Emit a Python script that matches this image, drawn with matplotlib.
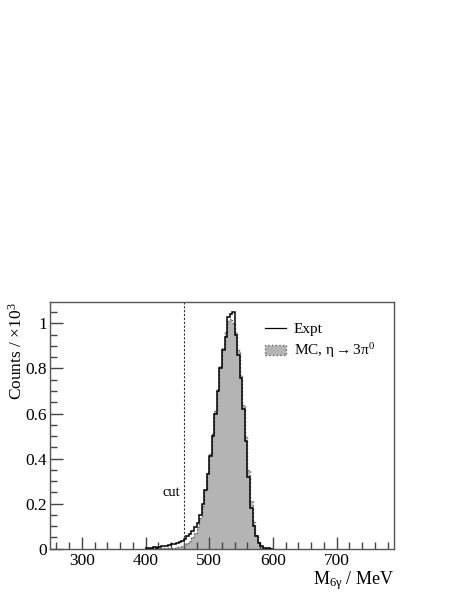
import numpy as np
import matplotlib
matplotlib.use("Agg")
from matplotlib import pyplot as plt
from matplotlib.lines import Line2D
from matplotlib.patches import Patch
from matplotlib.ticker import MultipleLocator, FuncFormatter

plt.rcParams['font.family'] = ['Liberation Serif', 'DejaVu Serif']
plt.rcParams['mathtext.fontset'] = 'custom'
plt.rcParams['mathtext.rm'] = 'Liberation Serif'
plt.rcParams['mathtext.it'] = 'Liberation Serif:italic'

# bin edges in MeV (4 MeV bins), counts in units of 10^3
edges = np.arange(400, 601, 4)
expt = [0.002, 0.004, 0.005, 0.006, 0.005, 0.008, 0.010, 0.012, 0.014, 0.016,
        0.019, 0.022, 0.026, 0.030, 0.036, 0.045, 0.055, 0.066, 0.080, 0.095,
        0.115, 0.150, 0.200, 0.260, 0.330, 0.410, 0.500, 0.600, 0.700, 0.800,
        0.880, 0.940, 1.030, 1.040, 1.050, 0.950, 0.860, 0.760, 0.620, 0.480,
        0.320, 0.180, 0.100, 0.055, 0.025, 0.010, 0.005, 0.002, 0.001, 0.000]
mc = [0.001, 0.001, 0.001, 0.002, 0.002, 0.002, 0.002, 0.003, 0.003, 0.003,
      0.004, 0.005, 0.006, 0.008, 0.012, 0.018, 0.026, 0.036, 0.050, 0.068,
      0.095, 0.135, 0.190, 0.260, 0.335, 0.420, 0.510, 0.610, 0.710, 0.810,
      0.890, 0.960, 1.010, 1.020, 1.000, 0.960, 0.880, 0.770, 0.640, 0.500,
      0.350, 0.210, 0.120, 0.060, 0.028, 0.012, 0.005, 0.002, 0.001, 0.000]
cut = 460

fig = plt.figure(figsize=(4.63, 5.99), dpi=100)
ax = fig.add_axes([0.108, 0.084, 0.743, 0.411])

ax.stairs(mc, edges, fill=True, color='#b4b4b4', zorder=1)
ax.stairs(mc, edges, color='#606060', linestyle=':', linewidth=1.0, zorder=2)
ax.stairs(expt, edges, color='black', linewidth=1.1, zorder=3)
ax.axvline(cut, color='#333333', linestyle=(0, (2, 1.5)), linewidth=0.8, zorder=0)
ax.text(cut - 5, 0.22, 'cut', ha='right', va='bottom', fontsize=10.5)

ax.set_xlim(250, 790)
ax.set_ylim(0, 1.093)
ax.xaxis.set_major_locator(MultipleLocator(100))
ax.xaxis.set_minor_locator(MultipleLocator(20))
ax.yaxis.set_major_locator(MultipleLocator(0.2))
ax.yaxis.set_minor_locator(MultipleLocator(0.05))
ax.yaxis.set_major_formatter(FuncFormatter(lambda v, p: '%g' % round(v, 2)))
ax.tick_params(which='both', direction='in', top=False, right=False,
               labelsize=12.5, color='#444444')
ax.tick_params(which='major', length=9, width=1.0)
ax.tick_params(which='minor', length=5, width=1.0)
ax.tick_params(axis='x', pad=3)
ax.tick_params(axis='y', pad=2)
for s in ax.spines.values():
    s.set_color('#555555')
    s.set_linewidth(1.0)

ax.set_xlabel(r'M$_{\mathrm{6\gamma}}$ / MeV', fontsize=13, loc='right', labelpad=0)
ax.set_ylabel(r'Counts / $\times$10$^3$', fontsize=12.5, loc='top', labelpad=0)

handles = [Line2D([], [], color='black', linewidth=0.9),
           Patch(facecolor='#b4b4b4', edgecolor='#606060', linestyle=':')]
ax.legend(handles, ['Expt', r'MC, $\mathrm{\eta\rightarrow3\pi^0}$'], loc='upper right',
          bbox_to_anchor=(0.985, 0.975), frameon=False, fontsize=11,
          handlelength=1.4, handletextpad=0.5, labelspacing=0.35)

fig.savefig('out.png', dpi=100)
